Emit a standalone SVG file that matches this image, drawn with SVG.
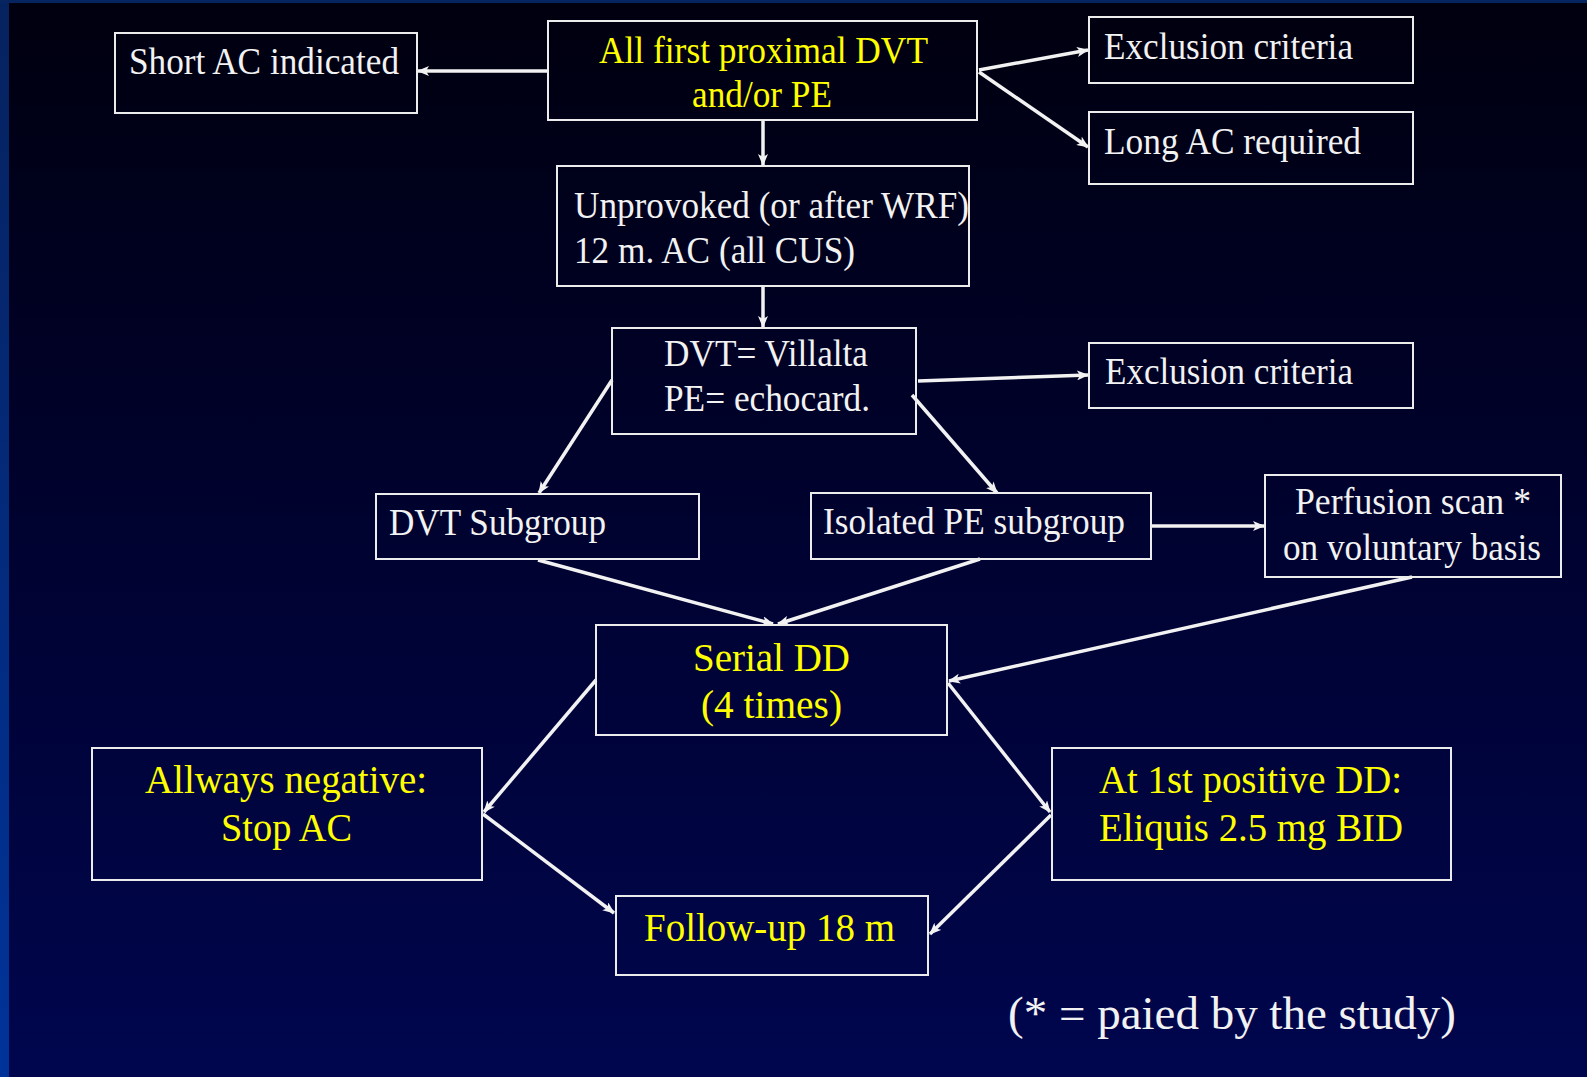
<svg xmlns="http://www.w3.org/2000/svg" width="1587" height="1077" viewBox="0 0 1587 1077">
<defs>
<linearGradient id="bg" x1="0" y1="0" x2="0" y2="1">
<stop offset="0" stop-color="#00000f"/>
<stop offset="0.5" stop-color="#000230"/>
<stop offset="1" stop-color="#00064e"/>
</linearGradient>
<linearGradient id="side" x1="0" y1="0" x2="0" y2="1">
<stop offset="0" stop-color="#06225e"/>
<stop offset="1" stop-color="#00339a"/>
</linearGradient>
<marker id="ah" markerWidth="12" markerHeight="10" refX="11" refY="5" orient="auto" markerUnits="userSpaceOnUse">
<path d="M0,0 L12,5 L0,10 L3,5 Z" fill="#f2f2f2"/>
</marker>
<style>
.box{fill:none;stroke:#ececec;stroke-width:2}
.t{font-family:"Liberation Serif","Times New Roman",serif;font-size:38px;fill:#f2f2f2}
.y{fill:#ffff00}
.big{font-size:40px}
.c{stroke:#f2f2f2;stroke-width:3.5;fill:none;marker-end:url(#ah)}
</style>
</defs>
<rect width="1587" height="1077" fill="url(#bg)"/>
<rect x="0" y="0" width="9" height="1077" fill="url(#side)"/>
<rect x="0" y="0" width="1587" height="3" fill="#062560"/>

<g id="connectors">
<line class="c" x1="548" y1="71" x2="418" y2="71"/>
<line class="c" x1="763" y1="120" x2="763" y2="165"/>
<line class="c" x1="979" y1="70" x2="1088" y2="50"/>
<line class="c" x1="979" y1="72" x2="1088" y2="147"/>
<line class="c" x1="763" y1="286" x2="763" y2="327"/>
<line class="c" x1="918" y1="381" x2="1088" y2="375"/>
<line class="c" x1="612" y1="380" x2="539" y2="493"/>
<line class="c" x1="912" y1="395" x2="997" y2="493"/>
<line class="c" x1="1151" y1="526" x2="1264" y2="526"/>
<line class="c" x1="538" y1="560" x2="773" y2="624"/>
<line class="c" x1="980" y1="559" x2="778" y2="624"/>
<line class="c" x1="1412" y1="577" x2="949" y2="681"/>
<line class="c" x1="596" y1="680" x2="484" y2="812"/>
<line class="c" x1="483" y1="814" x2="614" y2="913"/>
<line class="c" x1="948" y1="683" x2="1050" y2="812"/>
<line class="c" x1="1051" y1="815" x2="930" y2="934"/>
</g>

<g id="n-short">
<rect class="box" x="115" y="33" width="302" height="80"/>
<text class="t" x="129" y="74" textLength="270" lengthAdjust="spacingAndGlyphs">Short AC indicated</text>
</g>
<g id="n-all">
<rect class="box" x="548" y="21" width="429" height="99"/>
<text class="t y" x="599" y="63" textLength="329" lengthAdjust="spacingAndGlyphs">All first proximal DVT</text>
<text class="t y" x="692" y="107" textLength="140" lengthAdjust="spacingAndGlyphs">and/or PE</text>
</g>
<g id="n-excl1">
<rect class="box" x="1089" y="17" width="324" height="66"/>
<text class="t" x="1104" y="59" textLength="249" lengthAdjust="spacingAndGlyphs">Exclusion criteria</text>
</g>
<g id="n-long">
<rect class="box" x="1089" y="112" width="324" height="72"/>
<text class="t" x="1104" y="154" textLength="257" lengthAdjust="spacingAndGlyphs">Long AC required</text>
</g>
<g id="n-unprov">
<rect class="box" x="557" y="166" width="412" height="120"/>
<text class="t" x="574" y="218" textLength="395" lengthAdjust="spacingAndGlyphs">Unprovoked (or after WRF)</text>
<text class="t" x="574" y="263" textLength="281" lengthAdjust="spacingAndGlyphs">12 m. AC (all CUS)</text>
</g>
<g id="n-villalta">
<rect class="box" x="612" y="328" width="304" height="106"/>
<text class="t" x="664" y="366" textLength="204" lengthAdjust="spacingAndGlyphs">DVT= Villalta</text>
<text class="t" x="664" y="411" textLength="206" lengthAdjust="spacingAndGlyphs">PE= echocard.</text>
</g>
<g id="n-excl2">
<rect class="box" x="1089" y="343" width="324" height="65"/>
<text class="t" x="1105" y="384" textLength="248" lengthAdjust="spacingAndGlyphs">Exclusion criteria</text>
</g>
<g id="n-dvtsub">
<rect class="box" x="376" y="494" width="323" height="65"/>
<text class="t" x="389" y="535" textLength="217" lengthAdjust="spacingAndGlyphs">DVT Subgroup</text>
</g>
<g id="n-pesub">
<rect class="box" x="811" y="493" width="340" height="66"/>
<text class="t" x="823" y="534" textLength="302" lengthAdjust="spacingAndGlyphs">Isolated PE subgroup</text>
</g>
<g id="n-perf">
<rect class="box" x="1265" y="475" width="296" height="102"/>
<text class="t" x="1295" y="514" textLength="236" lengthAdjust="spacingAndGlyphs">Perfusion scan *</text>
<text class="t" x="1283" y="560" textLength="258" lengthAdjust="spacingAndGlyphs">on voluntary basis</text>
</g>
<g id="n-serial">
<rect class="box" x="596" y="625" width="351" height="110"/>
<text class="t y big" x="693" y="671" textLength="157" lengthAdjust="spacingAndGlyphs">Serial DD</text>
<text class="t y big" x="701" y="718" textLength="141" lengthAdjust="spacingAndGlyphs">(4 times)</text>
</g>
<g id="n-neg">
<rect class="box" x="92" y="748" width="390" height="132"/>
<text class="t y big" x="145" y="793" textLength="282" lengthAdjust="spacingAndGlyphs">Allways negative:</text>
<text class="t y big" x="221" y="841" textLength="131" lengthAdjust="spacingAndGlyphs">Stop AC</text>
</g>
<g id="n-pos">
<rect class="box" x="1052" y="748" width="399" height="132"/>
<text class="t y big" x="1099" y="793" textLength="303" lengthAdjust="spacingAndGlyphs">At 1st positive DD:</text>
<text class="t y big" x="1099" y="841" textLength="304" lengthAdjust="spacingAndGlyphs">Eliquis 2.5 mg BID</text>
</g>
<g id="n-follow">
<rect class="box" x="616" y="896" width="312" height="79"/>
<text class="t y big" x="644" y="941" textLength="251" lengthAdjust="spacingAndGlyphs">Follow-up 18 m</text>
</g>
<text class="t" style="font-size:46px" x="1008" y="1029" textLength="448" lengthAdjust="spacingAndGlyphs">(* = paied by the study)</text>
</svg>
